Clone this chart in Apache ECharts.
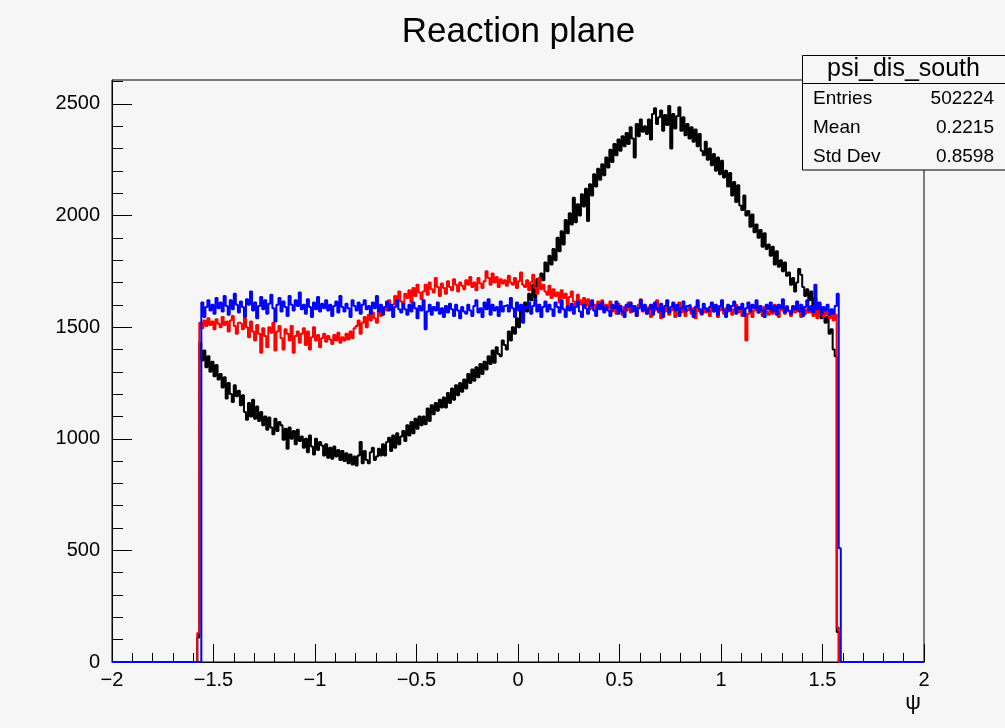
<!DOCTYPE html>
<html>
<head>
<meta charset="utf-8">
<script src="https://cdn.jsdelivr.net/npm/echarts@6/dist/echarts.min.js"></script>
<style>
html,body{margin:0;padding:0;background:#f6f6f6;}
#chart{width:1005px;height:728px;}
</style>
</head>
<body>
<div id="chart"></div>
<script>
// ---- Data (histograms, bin width 0.01, counts per bin) ----
const binWidth = 0.01;
const xTicks = [-2, -1.5, -1, -0.5, 0, 0.5, 1, 1.5, 2];
const yTicks = [0, 500, 1000, 1500, 2000, 2500];

const blackStart = -1.58;
const blackCounts = [110,
1430,1350,1395,1320,1370,1300,1345,1280,1330,1265,
1290,1230,1275,1180,1250,1200,1165,1240,1190,1215,
1150,1195,1120,1085,1160,1100,1175,1090,1145,1080,
1120,1060,1100,1040,1095,1050,1020,1090,1035,1075,
1060,995,1045,955,1050,1000,1035,975,1040,990,
1010,960,1000,940,1015,965,930,1000,950,985,
970,925,975,915,960,910,965,920,950,905,
945,900,935,890,930,885,920,880,925,985,
890,945,905,890,940,960,905,920,955,925,
975,925,985,1005,945,1015,960,1025,975,1010,
1035,990,1060,1015,1075,1025,1090,1045,1100,1060,
1100,1065,1135,1080,1150,1110,1160,1125,1175,1140,
1185,1140,1205,1160,1225,1175,1240,1195,1250,1210,
1265,1225,1290,1250,1310,1260,1320,1275,1335,1290,
1345,1310,1370,1335,1395,1340,1410,1380,1370,1440,
1420,1400,1480,1440,1500,1470,1540,1500,1575,1545,
1610,1570,1650,1620,1690,1630,1715,1680,1740,1710,
1790,1750,1820,1780,1850,1800,1900,1840,1930,1870,
1980,1920,2010,1960,2080,1970,2050,2000,2095,2040,
2120,1975,2140,2090,2185,2130,2210,2160,2230,2180,
2260,2215,2295,2240,2320,2270,2340,2290,2355,2310,
2370,2320,2395,2345,2260,2410,2355,2430,2375,2400,
2365,2430,2340,2455,2480,2410,2440,2470,2380,2450,
2405,2490,2300,2455,2390,2445,2485,2380,2440,2360,
2410,2345,2395,2330,2385,2310,2365,2290,2270,2330,
2250,2300,2225,2275,2200,2260,2185,2245,2170,2200,
2130,2190,2090,2150,2060,2135,2045,2025,2090,2000,
2020,1950,2005,1925,1960,1900,1935,1860,1920,1850,
1870,1820,1860,1780,1840,1770,1800,1750,1790,1730,
1745,1690,1720,1660,1700,1760,1735,1680,1640,1670,
1620,1660,1600,1630,1570,1605,1540,1575,1520,1545,
1470,1490,1400,1370,
134];

const redStart = -1.58;
const redCounts = [130,
1520,1495,1530,1505,1540,1510,1525,1490,1535,1515,
1500,1545,1510,1525,1480,1530,1550,1505,1470,1520,
1515,1490,1540,1500,1455,1525,1480,1440,1510,1470,
1385,1495,1460,1410,1500,1475,1520,1395,1480,1505,
1450,1400,1490,1470,1440,1505,1385,1460,1480,1430,
1470,1495,1420,1480,1400,1455,1500,1440,1465,1410,
1450,1470,1435,1460,1445,1425,1465,1440,1475,1430,
1455,1440,1470,1445,1480,1450,1495,1505,1530,1470,
1520,1545,1500,1555,1530,1565,1540,1520,1575,1550,
1560,1590,1575,1620,1585,1600,1640,1595,1660,1615,
1605,1650,1630,1665,1610,1675,1640,1690,1655,1625,
1660,1690,1645,1700,1670,1655,1720,1680,1640,1695,
1675,1650,1705,1680,1665,1715,1690,1660,1700,1685,
1670,1710,1690,1725,1680,1700,1665,1720,1695,1675,
1705,1750,1720,1690,1740,1700,1725,1680,1715,1695,
1710,1685,1730,1700,1690,1720,1675,1705,1745,1690,
1680,1710,1665,1700,1735,1675,1650,1720,1670,1690,
1660,1645,1685,1630,1670,1640,1655,1610,1665,1630,
1650,1600,1635,1660,1615,1590,1645,1620,1600,1630,
1595,1625,1580,1610,1600,1570,1615,1590,1620,1575,
1600,1585,1615,1570,1595,1560,1605,1580,1555,1590,
1575,1610,1565,1595,1580,1550,1600,1625,1570,1585,
1560,1590,1545,1600,1575,1620,1565,1540,1585,1570,
1590,1555,1575,1600,1545,1580,1610,1565,1590,1550,
1575,1595,1560,1585,1540,1600,1570,1555,1590,1565,
1580,1550,1600,1570,1590,1545,1575,1610,1560,1585,
1570,1595,1555,1580,1600,1565,1590,1550,1575,1440,
1560,1590,1545,1575,1600,1565,1580,1550,1590,1570,
1555,1585,1560,1600,1570,1545,1590,1575,1560,1595,
1570,1550,1585,1565,1600,1575,1545,1590,1560,1580,
1565,1590,1550,1575,1540,1585,1560,1545,1575,1555,
1540,1565,1530,1555,
155];

const blueStart = -1.56;
const blueCounts = [
1610,1545,1590,1620,1575,1600,1560,1630,1585,1610,
1570,1640,1595,1555,1620,1580,1650,1600,1565,1615,
1590,1545,1625,1600,1660,1575,1610,1540,1595,1635,
1580,1620,1560,1605,1645,1585,1525,1600,1630,1570,
1615,1590,1550,1640,1600,1575,1620,1595,1655,1580,
1600,1560,1625,1590,1545,1610,1580,1635,1570,1605,
1585,1620,1575,1600,1550,1595,1615,1565,1640,1590,
1570,1605,1585,1545,1620,1595,1575,1610,1560,1600,
1620,1580,1595,1560,1610,1585,1640,1570,1600,1555,
1590,1615,1575,1600,1545,1590,1620,1580,1565,1605,
1580,1555,1600,1570,1610,1585,1540,1595,1575,1620,
1490,1570,1600,1555,1590,1575,1610,1560,1585,1545,
1595,1565,1605,1580,1550,1600,1575,1540,1590,1570,
1560,1600,1575,1550,1595,1620,1565,1585,1545,1610,
1580,1625,1555,1600,1575,1590,1550,1615,1570,1595,
1600,1570,1630,1585,1545,1610,1575,1600,1520,1590,
1585,1610,1560,1595,1625,1570,1600,1545,1590,1615,
1570,1600,1580,1550,1610,1590,1565,1620,1580,1545,
1595,1575,1605,1560,1590,1615,1570,1545,1600,1585,
1560,1595,1620,1575,1550,1600,1580,1610,1565,1590,
1575,1550,1600,1585,1615,1560,1595,1570,1545,1600,
1590,1610,1570,1595,1550,1585,1620,1575,1600,1560,
1580,1600,1555,1610,1585,1570,1605,1545,1595,1620,
1565,1590,1610,1575,1600,1550,1585,1615,1570,1595,
1600,1575,1545,1590,1620,1580,1560,1605,1585,1570,
1590,1610,1570,1600,1555,1595,1620,1575,1545,1600,
1575,1595,1615,1560,1590,1580,1605,1550,1585,1610,
1570,1600,1585,1620,1565,1595,1575,1545,1600,1580,
1610,1570,1595,1555,1600,1585,1625,1565,1590,1575,
1560,1595,1580,1615,1570,1600,1550,1590,1620,1575,
1595,1565,1690,1580,1610,1560,1590,1575,1600,1555,
1580,1560,1595,1650,
510];

const statsName = 'psi_dis_south';
const statsLabels = ['Entries', 'Mean', 'Std Dev'];
const statsValues = ['502224', '0.2215', '0.8598'];

// ---- Build step outlines (points at bin left edges) ----
function histPoints(start, counts) {
  const pts = [[-2, 0]];
  for (let j = 0; j < counts.length; j++) {
    pts.push([+(start + j * binWidth).toFixed(4), counts[j]]);
  }
  pts.push([+(start + counts.length * binWidth).toFixed(4), 0]);
  pts.push([2, 0]);
  return pts;
}

const BG = '#f6f6f6';
const FONT = "'Liberation Sans', Arial, Helvetica, sans-serif";
const YMAX = 2607;
const yMinor = [];
for (let v = 100; v <= 2600; v += 100) if (v % 500 !== 0) yMinor.push(v);

const chart = echarts.init(document.getElementById('chart'), null, {renderer: 'canvas'});

function stepSeries(name, pts, color) {
  return {
    name: name, type: 'line', step: 'end', data: pts,
    showSymbol: false, symbol: 'none', animation: false,
    lineStyle: {color: color, width: 2},
    itemStyle: {color: color}
  };
}

const statsGraphics = [
  {type: 'rect', z: 100, shape: {x: 802.5, y: 55.5, width: 215, height: 114.5},
   style: {fill: BG, stroke: '#000', lineWidth: 1}},
  {type: 'line', z: 101, shape: {x1: 802.5, y1: 83.5, x2: 1010, y2: 83.5},
   style: {stroke: '#000', lineWidth: 1}},
  {type: 'text', z: 102, x: 903.5, y: 69.5,
   style: {text: statsName, font: '25px ' + FONT, fill: '#000', textAlign: 'center', textVerticalAlign: 'middle'}}
];
const rowY = [99, 128, 157];
statsLabels.forEach((lab, i) => {
  statsGraphics.push({type: 'text', z: 102, x: 813, y: rowY[i],
    style: {text: lab, font: '19px ' + FONT, fill: '#000', textAlign: 'left', textVerticalAlign: 'middle'}});
  statsGraphics.push({type: 'text', z: 102, x: 994, y: rowY[i],
    style: {text: statsValues[i], font: '19px ' + FONT, fill: '#000', textAlign: 'right', textVerticalAlign: 'middle'}});
});

const option = {
  backgroundColor: BG,
  animation: false,
  grid: {left: 112, right: 81, top: 80, bottom: 66, show: true,
         backgroundColor: BG, borderColor: '#000', borderWidth: 1},
  xAxis: {
    type: 'value', min: -2, max: 2, interval: 0.5,
    axisLine: {show: true, onZero: false, lineStyle: {color: '#000', width: 1}},
    axisTick: {show: true, inside: true, length: 18, lineStyle: {color: '#000'}},
    minorTick: {show: true, splitNumber: 5, length: 9, lineStyle: {color: '#000'}},
    splitLine: {show: false},
    axisLabel: {color: '#000', fontSize: 20, fontFamily: FONT, margin: 8,
      customValues: xTicks,
      formatter: v => String(v).replace('-', '\u2212')}
  },
  yAxis: [{
    type: 'value', min: 0, max: YMAX, position: 'left',
    axisLine: {show: true, onZero: false, lineStyle: {color: '#000', width: 1}},
    axisTick: {show: true, inside: true, length: 20, customValues: yTicks, lineStyle: {color: '#000'}},
    splitLine: {show: false},
    axisLabel: {color: '#000', fontSize: 20, fontFamily: FONT, margin: 12, customValues: yTicks,
      formatter: v => String(v)}
  }, {
    type: 'value', min: 0, max: YMAX, position: 'left', offset: 0,
    axisLine: {show: false, onZero: false},
    axisTick: {show: true, inside: true, length: 11, customValues: yMinor, lineStyle: {color: '#000'}},
    splitLine: {show: false},
    axisLabel: {show: false}
  }],
  series: [
    stepSeries('black', histPoints(blackStart, blackCounts), '#000000'),
    stepSeries('red', histPoints(redStart, redCounts), '#ff0000'),
    stepSeries('blue', histPoints(blueStart, blueCounts), '#0000ff')
  ],
  graphic: [
    {type: 'text', z: 100, x: 518.5, y: 32,
     style: {text: 'Reaction plane', font: '35px ' + FONT, fill: '#000', textAlign: 'center', textVerticalAlign: 'middle'}},
    {type: 'text', z: 100, x: 913, y: 703,
     style: {text: '\u03c8', font: '22px ' + FONT, fill: '#000', textAlign: 'center', textVerticalAlign: 'middle'}}
  ].concat(statsGraphics)
};
chart.setOption(option);
</script>
</body>
</html>
